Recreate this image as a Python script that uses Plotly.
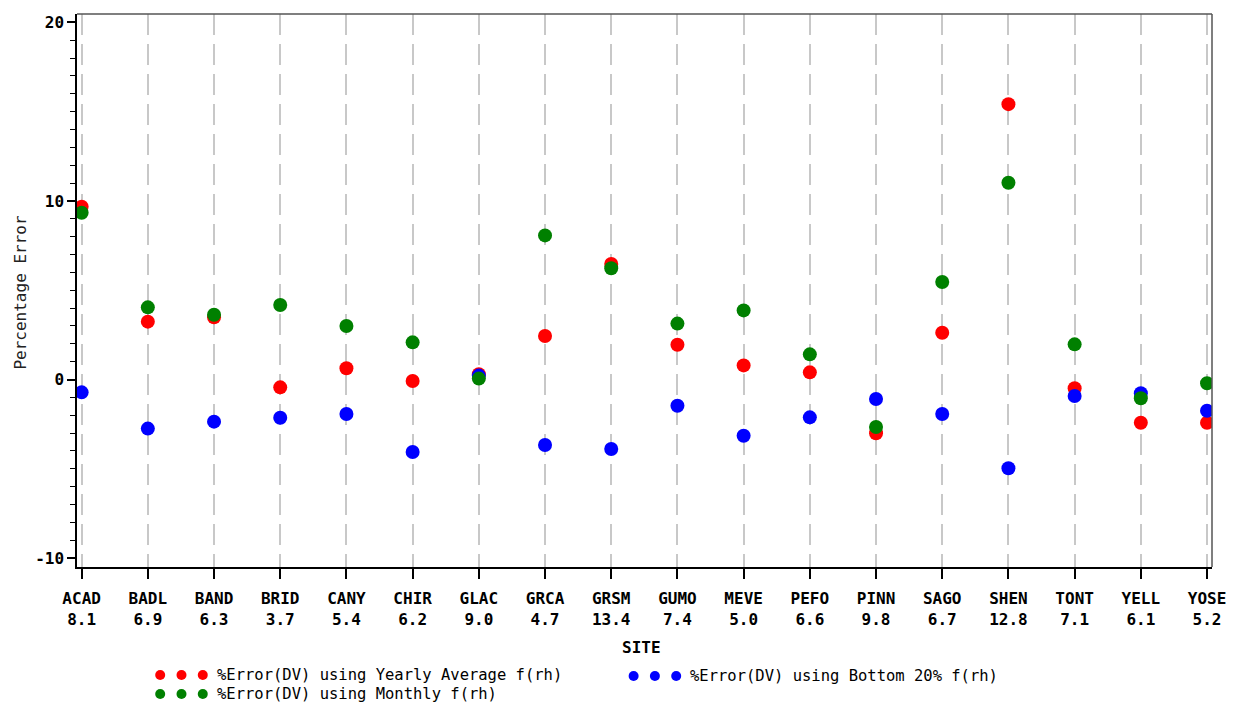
import plotly.graph_objects as go

# Site codes and the value printed under each code
sites = ["ACAD", "BADL", "BAND", "BRID", "CANY", "CHIR", "GLAC", "GRCA", "GRSM",
         "GUMO", "MEVE", "PEFO", "PINN", "SAGO", "SHEN", "TONT", "YELL", "YOSE"]
site_values = ["8.1", "6.9", "6.3", "3.7", "5.4", "6.2", "9.0", "4.7", "13.4",
               "7.4", "5.0", "6.6", "9.8", "6.7", "12.8", "7.1", "6.1", "5.2"]

# Percentage error for each f(rh) method
err_yearly = [9.68, 3.24, 3.48, -0.44, 0.63, -0.08, 0.30, 2.44, 6.47,
              1.95, 0.79, 0.40, -3.01, 2.62, 15.42, -0.49, -2.42, -2.42]
err_bottom20 = [-0.72, -2.75, -2.36, -2.14, -1.93, -4.06, 0.22, -3.67, -3.89,
                -1.47, -3.15, -2.12, -1.09, -1.93, -4.97, -0.92, -0.77, -1.75]
err_monthly = [9.34, 4.04, 3.63, 4.17, 3.00, 2.08, 0.05, 8.07, 6.23,
               3.13, 3.87, 1.41, -2.66, 5.46, 11.02, 1.97, -1.05, -0.21]

y_ticks = [-10, 0, 10, 20]

series = [
    ("%Error(DV) using Yearly Average f(rh)", err_yearly, "#ff0000"),
    ("%Error(DV) using Bottom 20% f(rh)", err_bottom20, "#0000ff"),
    ("%Error(DV) using Monthly f(rh)", err_monthly, "#008000"),
]

W, H = 1238, 703
ML, MR, MT, MB = 77, 15, 14, 136
PW, PH = W - ML - MR, H - MT - MB


def px_x(px):
    return (px - ML) / PW


def px_y(py):
    return (H - MB - py) / PH


fig = go.Figure()
for name, vals, color in series:
    fig.add_trace(go.Scatter(
        x=sites, y=vals, mode="markers", name=name,
        marker=dict(size=14, color=color, line=dict(width=0)),
        hoverinfo="skip", showlegend=False,
    ))

tick_font = dict(family="DejaVu Sans Mono", size=16, color="#000000")

fig.update_layout(
    width=W, height=H,
    margin=dict(l=ML, r=MR, t=MT, b=MB),
    paper_bgcolor="white", plot_bgcolor="white",
    showlegend=False,
    xaxis=dict(
        type="category",
        tickmode="array",
        tickvals=sites,
        ticktext=[f"<b>{s}</b><br><b>{v}</b>" for s, v in zip(sites, site_values)],
        tickfont=tick_font,
        ticklabelstandoff=6,
        range=[-0.07, 17.075],
        showgrid=True, gridcolor="#c8c8c8", gridwidth=1.5, griddash="21px,9px",
        ticks="outside", ticklen=10, tickwidth=1.5, tickcolor="#000000",
        showline=True, linecolor="#000000", linewidth=1.5,
        zeroline=False,
    ),
    yaxis=dict(
        range=[-10.5, 20.47],
        tickmode="array", tickvals=y_ticks,
        ticktext=[f"<b>{t}</b>" for t in y_ticks],
        tickfont=tick_font,
        ticks="outside", ticklen=8, tickwidth=1.5, tickcolor="#000000",
        minor=dict(dtick=1, ticks="outside", ticklen=5, tickwidth=1.2,
                   tickcolor="#000000", showgrid=False),
        showgrid=False, zeroline=False,
        showline=True, linecolor="#000000", linewidth=1.5,
    ),
)

# Top and right frame lines
fig.add_shape(type="line", xref="paper", yref="paper", x0=0, x1=1, y0=1, y1=1,
              line=dict(color="#555555", width=1.5))
fig.add_shape(type="line", xref="paper", yref="paper", x0=1, x1=1, y0=0, y1=1,
              line=dict(color="#555555", width=1.5))

# Axis titles
fig.add_annotation(text="Percentage Error", textangle=-90, showarrow=False,
                   xref="paper", yref="paper", x=px_x(19), y=px_y(293),
                   xanchor="center", yanchor="middle",
                   font=dict(family="DejaVu Sans Mono", size=16, color="#222222"))
fig.add_annotation(text="<b>SITE</b>", showarrow=False,
                   xref="paper", yref="paper", x=px_x(647), y=px_y(647),
                   xanchor="center", yanchor="middle",
                   font=dict(family="DejaVu Sans Mono", size=16, color="#000000"))

# Legend: three dots followed by the series label
legend_rows = [
    (series[0], 161, 675),
    (series[1], 639, 676),
    (series[2], 161, 694),
]
for (name, _, color), lx, ly in legend_rows:
    for k in range(3):
        cx = lx + 21.5 * k
        fig.add_shape(type="circle", xref="paper", yref="paper",
                      xsizemode="pixel", ysizemode="pixel",
                      xanchor=px_x(cx), yanchor=px_y(ly),
                      x0=-5, x1=5, y0=-5, y1=5,
                      fillcolor=color, line=dict(width=0))
    fig.add_annotation(text=name, showarrow=False,
                       xref="paper", yref="paper", x=px_x(lx + 55), y=px_y(ly),
                       xanchor="left", yanchor="middle",
                       font=dict(family="DejaVu Sans Mono", size=15.5, color="#000000"))

fig.write_html("out.html", config={"displayModeBar": False})
